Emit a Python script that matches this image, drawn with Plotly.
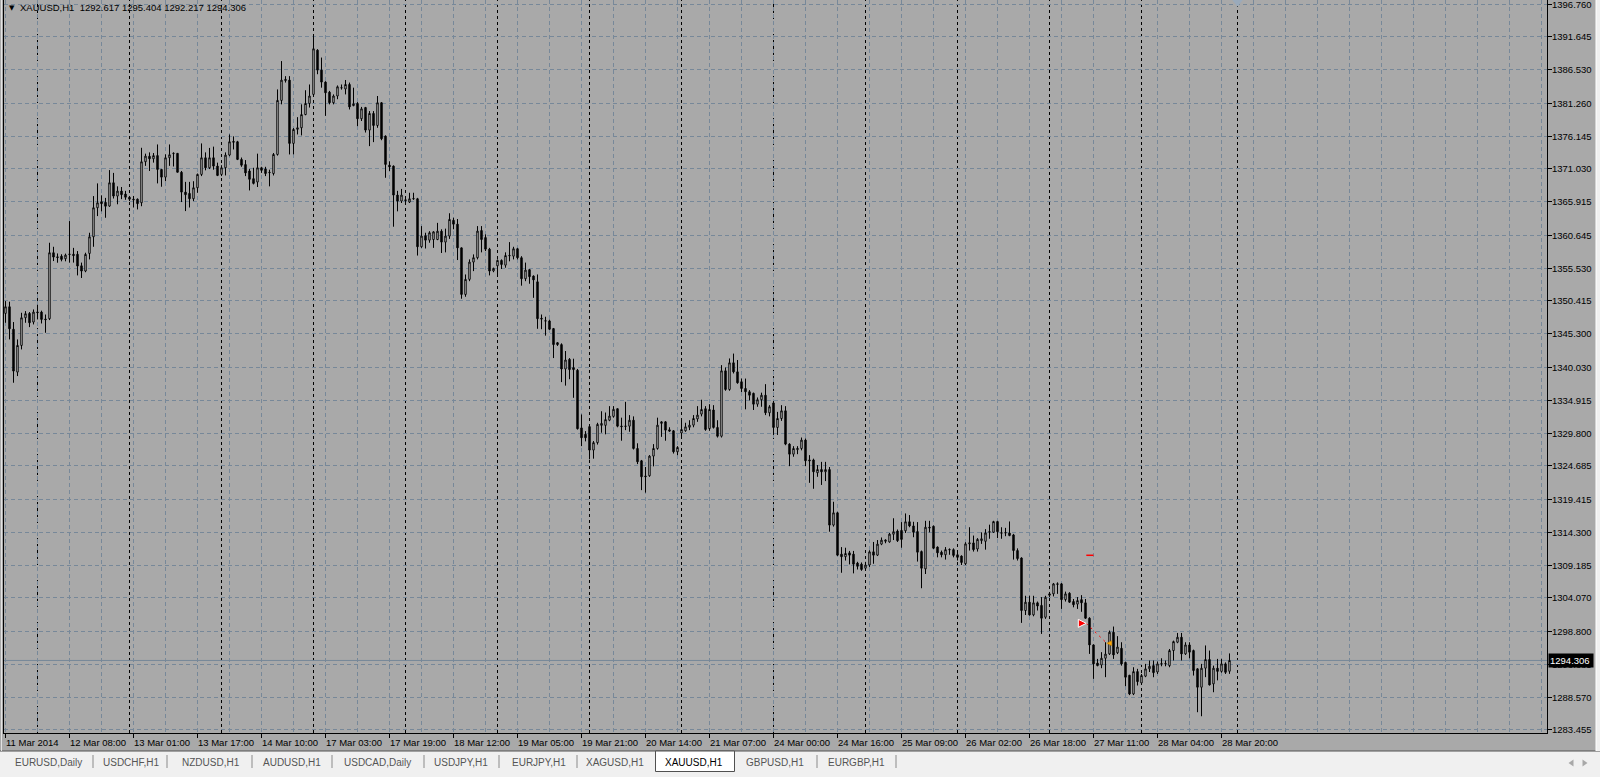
import plotly.graph_objects as go

# ---------------- data (hourly XAUUSD bars) ----------------
opens = [1348.47,1349.51,1346.0,1339.31,1343.47,1347.79,1348.47,1347.12,1348.7,1348.68,
 1347.6,1347.64,1357.94,1357.3,1357.4,1357.0,1357.72,1357.7,1357.7,1355.9,
 1355.08,1357.83,1360.43,1364.96,1365.9,1365.8,1365.22,1368.86,1366.78,1367.56,
 1367.1,1366.6,1366.3,1366.3,1365.74,1372.14,1373.0,1372.6,1373.1,1370.94,
 1369.74,1372.76,1373.4,1373.45,1370.5,1367.4,1367.2,1366.36,1368.08,1370.16,
 1372.76,1371.2,1372.76,1371.46,1370.16,1371.2,1373.18,1375.3,1375.26,1372.5,
 1371.7,1370.7,1369.5,1368.97,1371.2,1371.0,1370.5,1370.3,1373.28,1381.71,
 1384.8,1384.88,1375.0,1377.2,1377.44,1379.5,1381.24,1382.65,1389.56,1386.44,
 1384.57,1383.0,1381.35,1382.4,1383.7,1383.5,1384.2,1380.9,1381.24,1378.85,
 1380.6,1377.08,1379.68,1377.8,1381.35,1376.14,1371.6,1371.46,1366.94,1366.0,
 1366.2,1365.85,1366.4,1366.36,1358.87,1360.6,1359.9,1360.0,1360.0,1361.3,
 1359.6,1360.54,1363.0,1362.4,1358.7,1351.43,1353.78,1356.48,1357.16,1361.4,
 1360.3,1358.5,1355.1,1355.9,1356.74,1356.0,1357.52,1357.4,1358.56,1357.16,
 1353.88,1355.3,1354.3,1353.4,1347.7,1347.32,1347.3,1346.1,1343.9,1343.6,
 1339.8,1341.3,1340.0,1339.6,1330.6,1329.6,1330.8,1327.14,1328.3,1331.0,
 1331.0,1331.8,1332.4,1333.6,1330.9,1330.9,1330.87,1331.8,1327.39,1325.47,
 1323.1,1323.13,1326.2,1327.39,1331.3,1331.55,1330.3,1330.15,1326.87,1329.8,
 1330.15,1330.7,1331.03,1332.0,1332.75,1333.6,1330.5,1333.4,1330.67,1329.3,
 1339.51,1336.6,1340.76,1339.35,1337.8,1336.75,1336.24,1336.0,1334.3,1335.0,
 1335.7,1332.96,1334.5,1330.67,1332.07,1333.27,1328.07,1326.5,1327.2,1327.39,
 1328.7,1325.6,1325.6,1323.6,1324.1,1323.75,1324.1,1315.43,1317.35,1310.9,
 1310.5,1311.1,1310.9,1309.5,1309.34,1308.7,1309.2,1311.26,1310.74,1312.46,
 1312.9,1312.8,1314.0,1314.5,1314.6,1314.54,1315.95,1315.3,1314.42,1311.3,
 1308.6,1315.1,1315.25,1312.0,1311.2,1310.8,1311.62,1311.6,1310.8,1310.6,
 1309.4,1312.5,1312.65,1311.7,1313.0,1312.9,1314.3,1314.32,1315.98,1314.22,
 1314.2,1314.2,1313.9,1311.46,1310.3,1302.1,1303.4,1301.42,1303.3,1302.9,
 1301.05,1304.7,1304.7,1306.26,1306.26,1303.8,1304.8,1303.5,1303.1,1303.8,
 1303.3,1300.9,1296.73,1293.9,1293.6,1294.65,1295.33,1298.71,1295.5,1296.2,
 1294.0,1292.0,1289.08,1292.57,1290.8,1291.85,1293.0,1293.5,1292.5,1293.8,
 1293.78,1293.5,1295.85,1297.15,1297.93,1295.33,1296.73,1295.85,1293.0,1290.13,
 1293.1,1294.45,1290.65,1293.1,1292.6,1293.77,1292.617]
highs = [1350.39,1350.3,1347.12,1344.41,1348.57,1348.83,1348.68,1349.09,1349.82,1348.9,
 1348.3,1359.5,1358.87,1357.83,1357.7,1357.8,1362.88,1358.7,1358.2,1356.4,
 1357.94,1361.06,1366.78,1368.76,1366.9,1366.5,1370.84,1370.4,1368.3,1368.2,
 1367.6,1366.8,1366.8,1366.4,1374.32,1373.4,1373.6,1373.5,1374.84,1371.0,
 1373.3,1374.84,1373.6,1373.5,1370.7,1369.0,1369.0,1369.1,1370.3,1375.0,
 1373.6,1374.3,1374.5,1372.0,1371.6,1373.6,1376.4,1376.1,1375.4,1372.8,
 1372.4,1371.0,1371.2,1373.4,1371.35,1371.35,1370.9,1373.5,1383.43,1387.85,
 1385.5,1385.5,1377.4,1379.1,1381.1,1383.3,1384.2,1392.0,1389.7,1388.4,
 1384.7,1383.2,1382.65,1384.05,1384.2,1384.9,1384.5,1383.7,1381.45,1380.7,
 1380.7,1380.05,1380.05,1382.4,1381.45,1376.25,1372.2,1371.56,1367.6,1367.9,
 1366.5,1367.3,1367.3,1366.5,1362.1,1361.06,1361.3,1361.3,1362.6,1361.6,
 1361.7,1364.1,1363.4,1363.2,1358.75,1354.55,1356.9,1357.68,1362.1,1362.1,
 1360.8,1358.7,1355.6,1356.9,1356.9,1358.0,1359.6,1358.87,1358.7,1357.4,
 1356.4,1355.4,1354.4,1354.55,1348.3,1347.95,1347.5,1346.2,1344.0,1343.8,
 1342.6,1341.5,1341.4,1339.8,1332.7,1330.1,1331.0,1328.55,1331.4,1333.2,
 1333.0,1334.0,1334.0,1333.6,1332.2,1334.67,1332.6,1332.4,1328.2,1325.6,
 1324.5,1326.35,1328.07,1332.2,1331.65,1331.65,1330.7,1330.25,1327.75,1331.8,
 1331.4,1331.8,1332.6,1334.0,1335.0,1334.0,1334.3,1334.15,1331.8,1340.4,
 1340.03,1341.44,1342.2,1341.2,1338.3,1338.3,1336.5,1336.1,1335.35,1336.1,
 1337.43,1334.15,1334.8,1333.1,1334.15,1334.0,1328.2,1327.75,1327.75,1329.1,
 1328.95,1326.35,1325.8,1324.8,1325.3,1325.3,1324.5,1319.07,1317.5,1312.0,
 1311.9,1311.4,1311.4,1309.7,1309.6,1309.7,1311.5,1312.8,1313.1,1313.5,
 1313.2,1314.2,1316.5,1314.75,1315.9,1317.25,1317.0,1315.95,1315.9,1311.46,
 1316.1,1316.1,1315.36,1312.1,1311.46,1312.0,1311.8,1311.8,1311.5,1310.7,
 1312.76,1315.1,1313.8,1313.4,1314.3,1314.8,1315.5,1316.1,1316.1,1315.1,
 1315.0,1316.0,1314.06,1311.8,1310.4,1304.4,1304.4,1304.4,1303.5,1304.2,
 1304.4,1305.0,1306.4,1306.5,1306.4,1305.05,1304.95,1303.9,1304.2,1304.5,
 1303.9,1301.05,1296.8,1294.55,1295.6,1297.15,1298.97,1299.6,1298.1,1297.15,
 1294.1,1292.05,1293.25,1293.0,1292.2,1293.77,1294.3,1294.3,1294.14,1294.65,
 1294.3,1296.1,1297.4,1298.6,1298.6,1297.15,1297.15,1296.0,1293.1,1293.77,
 1296.65,1295.85,1293.5,1294.55,1294.55,1294.0,1295.404]
lows = [1347.01,1344.41,1337.65,1338.69,1342.85,1347.01,1346.33,1346.75,1347.53,1346.9,
 1345.45,1347.43,1356.64,1356.38,1356.6,1356.6,1356.4,1356.4,1354.4,1354.0,
 1354.9,1356.9,1358.87,1363.66,1364.4,1363.4,1365.1,1366.4,1365.5,1366.3,
 1366.2,1366.0,1365.0,1364.7,1365.2,1371.5,1370.7,1372.0,1368.76,1368.24,
 1369.1,1371.5,1371.4,1370.5,1365.85,1364.44,1365.0,1366.0,1367.3,1369.9,
 1370.8,1371.0,1370.9,1369.9,1369.9,1370.0,1373.0,1374.06,1372.4,1371.35,
 1369.9,1367.66,1368.6,1368.2,1370.4,1369.9,1368.3,1370.0,1373.1,1381.1,
 1384.5,1373.28,1373.3,1376.4,1376.25,1379.4,1380.6,1382.4,1385.8,1383.7,
 1379.3,1381.1,1381.1,1381.9,1383.4,1382.65,1380.3,1380.8,1377.7,1378.5,
 1376.7,1374.58,1375.2,1377.44,1375.5,1369.64,1370.7,1362.0,1364.4,1365.7,
 1365.5,1365.7,1366.2,1357.5,1358.7,1358.6,1359.5,1358.7,1359.9,1357.9,
 1358.0,1360.1,1361.6,1356.8,1350.76,1351.07,1353.5,1355.07,1356.9,1358.0,
 1358.2,1354.4,1354.9,1354.4,1355.4,1355.6,1356.6,1356.9,1356.9,1352.8,
 1353.5,1353.1,1350.9,1346.07,1346.0,1345.0,1345.9,1341.5,1343.4,1337.75,
 1337.2,1338.2,1335.3,1330.35,1327.76,1328.5,1325.7,1325.8,1328.0,1329.85,
 1329.6,1331.65,1332.2,1330.7,1328.6,1330.25,1330.0,1327.23,1324.95,1320.89,
 1320.5,1322.97,1324.6,1327.2,1329.2,1328.6,1330.0,1326.6,1326.35,1329.2,
 1330.0,1330.25,1330.7,1331.55,1332.4,1330.15,1330.15,1330.5,1329.1,1329.1,
 1336.4,1336.4,1339.1,1337.5,1336.2,1333.5,1334.9,1333.4,1333.9,1333.9,
 1332.6,1332.4,1329.5,1329.5,1331.7,1327.9,1324.63,1326.1,1326.5,1327.1,
 1324.63,1322.03,1321.1,1322.97,1321.7,1322.3,1314.4,1315.2,1310.6,1307.99,
 1309.9,1309.3,1307.9,1308.5,1308.3,1308.4,1308.9,1309.4,1310.6,1312.3,
 1312.6,1312.7,1313.1,1312.8,1311.9,1314.2,1315.1,1313.54,1309.74,1305.58,
 1307.8,1314.3,1311.7,1310.4,1310.4,1310.05,1310.8,1310.4,1309.9,1309.2,
 1309.2,1311.46,1311.3,1311.3,1312.5,1311.6,1313.3,1314.2,1313.4,1313.3,
 1313.7,1313.7,1310.05,1309.9,1300.17,1301.4,1301.3,1301.2,1302.1,1298.45,
 1300.8,1304.2,1304.3,1304.7,1302.35,1303.5,1303.3,1302.6,1302.35,1301.9,
 1300.8,1295.33,1291.43,1293.4,1293.1,1291.7,1295.17,1294.55,1295.3,1293.5,
 1290.3,1288.9,1288.9,1290.4,1290.65,1291.7,1292.5,1291.69,1292.2,1293.4,
 1293.4,1293.25,1294.3,1297.0,1294.3,1295.17,1294.65,1291.95,1286.23,1285.6,
 1291.7,1290.4,1289.35,1291.2,1292.4,1292.2,1292.217]
closes = [1349.51,1346.07,1339.47,1343.47,1347.79,1348.42,1347.01,1348.68,1348.6,1347.53,
 1347.5,1357.94,1357.26,1357.2,1356.9,1357.57,1357.68,1357.5,1355.86,1355.08,
 1357.68,1360.43,1364.96,1365.74,1365.6,1365.2,1368.86,1366.78,1367.56,1367.0,
 1366.6,1366.3,1366.2,1365.6,1372.14,1373.02,1372.6,1373.1,1370.94,1369.74,
 1372.76,1373.23,1373.45,1370.5,1367.4,1367.0,1366.36,1368.08,1370.16,1372.76,
 1371.2,1372.76,1371.46,1370.0,1371.2,1373.18,1375.26,1375.2,1372.5,1371.6,
 1370.4,1369.4,1368.76,1371.2,1370.8,1370.3,1370.45,1373.28,1381.71,1384.88,
 1385.0,1375.0,1377.18,1377.44,1379.5,1381.24,1382.4,1389.77,1386.44,1384.57,
 1382.9,1381.35,1382.4,1383.84,1383.68,1384.2,1380.7,1381.2,1378.85,1380.4,
 1377.08,1379.68,1377.8,1381.35,1375.73,1371.72,1371.35,1366.94,1366.0,1366.94,
 1366.1,1366.36,1366.36,1358.87,1360.54,1359.9,1361.06,1361.2,1361.3,1359.6,
 1360.54,1363.14,1362.4,1358.7,1351.43,1353.78,1356.48,1357.16,1361.32,1360.0,
 1358.5,1355.08,1355.5,1356.74,1356.1,1357.5,1357.48,1358.56,1357.16,1353.88,
 1355.23,1354.2,1353.7,1347.64,1347.6,1347.28,1346.0,1343.6,1343.6,1339.8,
 1341.2,1339.7,1339.7,1330.47,1329.06,1329.06,1327.14,1328.3,1331.15,1331.3,
 1331.9,1332.45,1333.5,1330.87,1330.8,1330.85,1331.8,1327.39,1325.31,1322.97,
 1323.0,1326.2,1327.39,1331.03,1331.55,1330.25,1330.1,1326.87,1327.55,1330.35,
 1330.77,1331.03,1332.07,1332.6,1333.48,1330.35,1333.48,1330.67,1329.3,1339.51,
 1336.6,1340.76,1339.35,1337.64,1336.75,1336.24,1335.7,1334.3,1335.0,1335.7,
 1332.96,1333.9,1330.67,1332.07,1333.27,1328.07,1326.5,1327.39,1327.4,1328.7,
 1325.47,1325.47,1323.75,1324.1,1323.75,1324.1,1315.43,1317.35,1310.74,1310.5,
 1311.0,1310.74,1309.34,1309.0,1308.5,1309.2,1311.26,1310.74,1312.46,1313.08,
 1313.1,1314.02,1314.4,1313.0,1313.2,1315.95,1315.3,1314.32,1311.2,1308.7,
 1315.1,1315.0,1311.82,1311.1,1310.8,1311.6,1311.58,1310.7,1310.4,1309.6,
 1312.5,1312.65,1311.6,1313.2,1313.3,1314.2,1314.4,1315.98,1314.4,1314.18,
 1314.25,1313.8,1311.46,1310.2,1302.1,1303.4,1301.42,1303.3,1302.8,1300.9,
 1304.17,1304.5,1306.26,1306.2,1303.8,1304.7,1303.4,1303.0,1303.65,1303.3,
 1300.9,1296.73,1293.77,1293.5,1294.65,1295.3,1298.71,1295.17,1296.4,1293.77,
 1291.69,1289.08,1292.57,1291.0,1291.95,1292.99,1293.4,1292.4,1293.77,1293.77,
 1293.82,1295.85,1297.25,1297.93,1295.33,1296.73,1295.6,1292.73,1290.13,1293.1,
 1294.45,1290.49,1293.1,1292.6,1293.77,1292.45,1294.306]

time_labels = ["11 Mar 2014", "12 Mar 08:00", "13 Mar 01:00", "13 Mar 17:00", "14 Mar 10:00",
               "17 Mar 03:00", "17 Mar 19:00", "18 Mar 12:00", "19 Mar 05:00", "19 Mar 21:00",
               "20 Mar 14:00", "21 Mar 07:00", "24 Mar 00:00", "24 Mar 16:00", "25 Mar 09:00",
               "26 Mar 02:00", "26 Mar 18:00", "27 Mar 11:00", "28 Mar 04:00", "28 Mar 20:00"]
label_bars = [0, 16, 32, 48, 64, 80, 96, 112, 128, 144, 160, 176, 192, 208, 224, 240, 256, 272, 288, 304]
day_start_bars = [8, 31, 54, 77, 100, 123, 146, 169, 192, 215, 238, 261, 284, 308]
price_ticks = [1396.760, 1391.645, 1386.530, 1381.260, 1376.145, 1371.030, 1365.915, 1360.645,
               1355.530, 1350.415, 1345.300, 1340.030, 1334.915, 1329.800, 1324.685, 1319.415,
               1314.300, 1309.185, 1304.070, 1298.800, 1293.685, 1288.570, 1283.455]
symbol = "XAUUSD,H1"
tabs = ["EURUSD,Daily", "USDCHF,H1", "NZDUSD,H1", "AUDUSD,H1", "USDCAD,Daily", "USDJPY,H1",
        "EURJPY,H1", "XAGUSD,H1", "XAUUSD,H1", "GBPUSD,H1", "EURGBP,H1"]
active_tab = "XAUUSD,H1"
trade_open_bar, trade_open_price = 270.2, 1300.1
trade_close_bar, trade_close_price = 275.3, 1297.0
stop_bars, stop_price = [270.2, 272.0], 1310.72
shift_marker_bar = 308

# ---------------- layout geometry ----------------
W, H = 1600, 777
ML, MR, MT, MB = 4, 53, 0, 44
PW, PH = W - ML - MR, H - MT - MB
BAR_PX = 4.0
X0 = -0.375
YTOP, PX_PER_PRICE = 1397.384, 1 / 0.15607
FONT = "Liberation Sans, Arial, sans-serif"
BG = "#A9A9A9"
GRID = "#778899"

def px(X):
    return (X - ML) / PW

def py(Y):
    return (PH + MT - Y) / PH

bars = list(range(len(opens)))

fig = go.Figure()
fig.add_trace(go.Candlestick(
    x=bars, open=opens, high=highs, low=lows, close=closes,
    increasing=dict(line=dict(color="black", width=1), fillcolor="white"),
    decreasing=dict(line=dict(color="black", width=1), fillcolor="black"),
    whiskerwidth=0, hoverinfo="skip", showlegend=False))

# trade markers
fig.add_trace(go.Scatter(x=[trade_open_bar, trade_close_bar], y=[trade_open_price, trade_close_price],
                         mode="lines", line=dict(color="#FF0000", width=1, dash="2px,4px"),
                         hoverinfo="skip", showlegend=False))
fig.add_trace(go.Scatter(x=stop_bars, y=[stop_price, stop_price], mode="lines",
                         line=dict(color="#FF0000", width=1.5), hoverinfo="skip", showlegend=False))
fig.add_trace(go.Scatter(x=[trade_open_bar], y=[trade_open_price], mode="markers",
                         marker=dict(symbol="arrow-right", size=8, color="#FF0000",
                                     line=dict(color="white", width=1)),
                         hoverinfo="skip", showlegend=False))
fig.add_trace(go.Scatter(x=[trade_close_bar], y=[trade_close_price], mode="markers",
                         marker=dict(symbol="arrow-left", size=5, color="#FFA500",
                                     line=dict(color="#C08000", width=0.5)),
                         hoverinfo="skip", showlegend=False))
fig.add_trace(go.Scatter(x=[shift_marker_bar], y=[YTOP - 0.35], mode="markers",
                         marker=dict(symbol="triangle-down", size=9, color="#9AAABB"),
                         cliponaxis=False, hoverinfo="skip", showlegend=False))

shapes = []
# day separators
for b in day_start_bars:
    shapes.append(dict(type="line", xref="x", yref="paper", x0=b, x1=b, y0=0, y1=1,
                       line=dict(color="black", width=1, dash="3px,3px"), layer="below"))
# current price line
shapes.append(dict(type="line", xref="paper", yref="y", x0=0, x1=1, y0=closes[-1], y1=closes[-1],
                   line=dict(color=GRID, width=1), layer="below"))
# bottom tab strip
shapes.append(dict(type="rect", xref="paper", yref="paper", x0=px(-2), x1=px(1602),
                   y0=py(751), y1=py(779), fillcolor="#F0F0F0", line=dict(width=0), layer="above"))
shapes.append(dict(type="line", xref="paper", yref="paper", x0=px(0), x1=px(1600),
                   y0=py(751), y1=py(751), line=dict(color="#505050", width=1), layer="above"))
# left / right window borders
shapes.append(dict(type="line", xref="paper", yref="paper", x0=px(1.5), x1=px(1.5),
                   y0=py(0), y1=py(751), line=dict(color="#E2E2E2", width=1), layer="above"))
shapes.append(dict(type="rect", xref="paper", yref="paper", x0=px(1596), x1=px(1602),
                   y0=py(-2), y1=py(751), fillcolor="#F0F0F0", line=dict(width=0), layer="above"))
shapes.append(dict(type="line", xref="paper", yref="paper", x0=px(1596), x1=px(1596),
                   y0=py(0), y1=py(751), line=dict(color="white", width=1), layer="above"))

tab_centers = [48, 131, 211, 292, 377, 461, 539, 615, 694, 775, 856]
tab_seps = [93, 167, 252, 332, 424, 499, 577, 817, 896]
for xs in tab_seps:
    shapes.append(dict(type="line", xref="paper", yref="paper", x0=px(xs), x1=px(xs),
                       y0=py(755), y1=py(768), line=dict(color="#8A8A8A", width=1), layer="above"))
act_i = tabs.index(active_tab)
shapes.append(dict(type="rect", xref="paper", yref="paper",
                   x0=px(tab_centers[act_i] - 38.5), x1=px(tab_centers[act_i] + 40.5),
                   y0=py(751), y1=py(771.5), fillcolor="white",
                   line=dict(color="#505050", width=1), layer="above"))
# scroll arrows
for cx, d in [(1571, -1), (1585, 1)]:
    tip = cx + 2.5 * d
    base = cx - 2.5 * d
    shapes.append(dict(type="path", xref="paper", yref="paper",
                       path=f"M {px(base)} {py(759.5)} L {px(tip)} {py(763)} L {px(base)} {py(766.5)} Z",
                       fillcolor="#A8A8A8", line=dict(width=0), layer="above"))

annotations = []
# price-axis labels, drawn just right of the tick marks
for v in price_ticks:
    annotations.append(dict(text=f"{v:.3f}", xref="paper", yref="y", x=1, y=v,
                            xanchor="left", yanchor="middle", xshift=3, showarrow=False,
                            font=dict(family=FONT, size=9.5, color="black")))
# time-axis labels (left aligned at their tick, like the terminal)
for b, t in zip(label_bars, time_labels):
    annotations.append(dict(text=t, xref="x", yref="paper", x=b, y=py(742.5),
                            xanchor="left", yanchor="middle", xshift=-2, showarrow=False,
                            font=dict(family=FONT, size=9.5, color="black")))
for i, t in enumerate(tabs):
    annotations.append(dict(text=t, xref="paper", yref="paper", x=px(tab_centers[i]), y=py(762),
                            xanchor="center", yanchor="middle", showarrow=False,
                            font=dict(family=FONT, size=10,
                                      color="black" if t == active_tab else "#555555")))
# header
annotations.append(dict(text="▼", xref="paper", yref="paper", x=px(12), y=py(7.5),
                        xanchor="center", yanchor="middle", showarrow=False,
                        font=dict(family="DejaVu Sans", size=7, color="black")))
hdr = f"{symbol}  {opens[-1]:.3f} {highs[-1]:.3f} {lows[-1]:.3f} {closes[-1]:.3f}"
annotations.append(dict(text=hdr, xref="paper", yref="paper", x=px(18), y=py(7.5),
                        xanchor="left", yanchor="middle", showarrow=False,
                        font=dict(family=FONT, size=9.5, color="black")))
# current price box
annotations.append(dict(text=f"{closes[-1]:.3f}", xref="paper", yref="y", x=1, y=closes[-1],
                        xanchor="left", yanchor="middle", xshift=1, showarrow=False,
                        bgcolor="black", borderpad=1, width=42, align="left",
                        font=dict(family=FONT, size=9.5, color="white")))

yrange = [YTOP - PH / PX_PER_PRICE, YTOP]
xrange = [X0, X0 + PW / BAR_PX]

fig.update_layout(
    width=W, height=H, margin=dict(l=ML, r=MR, t=MT, b=MB, pad=0, autoexpand=False),
    paper_bgcolor=BG, plot_bgcolor=BG, hovermode=False, showlegend=False,
    boxgap=0.5,
    shapes=shapes, annotations=annotations,
    xaxis=dict(range=xrange, type="linear", rangeslider=dict(visible=False),
               automargin=False,
               tickmode="array", tickvals=label_bars, ticktext=time_labels,
               showticklabels=False,
               ticks="outside", ticklen=4, tickcolor="black", tickwidth=1,
               showgrid=True, gridcolor=GRID, gridwidth=1, griddash="4px,3px",
               minor=dict(tick0=0, dtick=8, showgrid=True, gridcolor=GRID, gridwidth=1,
                          griddash="4px,3px", ticks=""),
               showline=True, linecolor="black", linewidth=1, mirror=False,
               zeroline=False, fixedrange=True),
    yaxis=dict(range=yrange, side="right", automargin=False,
               tickmode="array", tickvals=price_ticks,
               ticktext=[f"{v:.3f}" for v in price_ticks],
               showticklabels=False,
               ticks="outside", ticklen=4, tickcolor="black", tickwidth=1,
               showgrid=True, gridcolor=GRID, gridwidth=1, griddash="4px,3px",
               showline=True, linecolor="black", linewidth=1, mirror=True,
               zeroline=False, fixedrange=True),
)

fig.write_html("out.html", config={"displayModeBar": False},
               post_script="document.body.style.margin='0px';document.body.style.padding='0px';")
